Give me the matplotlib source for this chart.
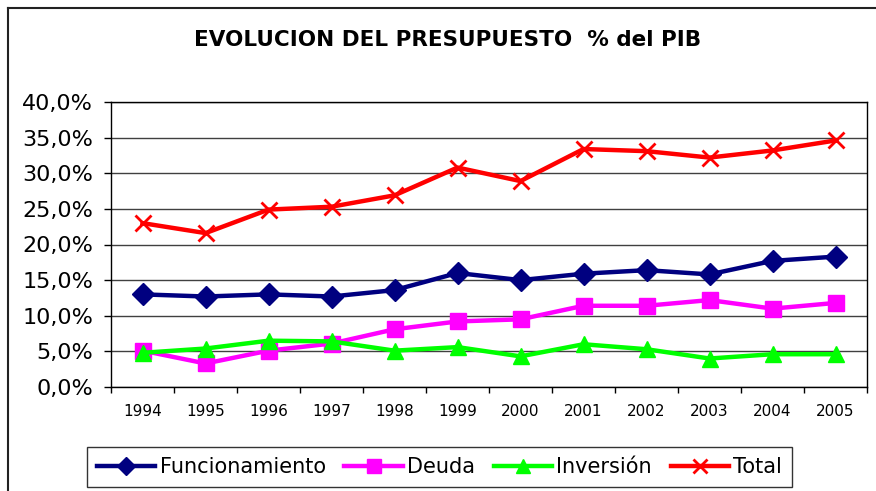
import matplotlib
matplotlib.use("Agg")
import matplotlib.pyplot as plt
from matplotlib.lines import Line2D
from matplotlib.ticker import FixedLocator, FuncFormatter

years = ["1994", "1995", "1996", "1997", "1998", "1999",
         "2000", "2001", "2002", "2003", "2004", "2005"]
funcionamiento = [13.0, 12.7, 13.0, 12.7, 13.6, 16.0, 15.0, 15.9, 16.4, 15.8, 17.7, 18.3]
deuda = [5.1, 3.3, 5.1, 6.1, 8.1, 9.2, 9.5, 11.4, 11.4, 12.2, 11.0, 11.8]
inversion = [4.8, 5.4, 6.5, 6.4, 5.1, 5.6, 4.3, 6.0, 5.3, 4.0, 4.6, 4.6]
total = [23.0, 21.6, 24.9, 25.3, 26.9, 30.8, 28.9, 33.4, 33.1, 32.2, 33.2, 34.6]

W, H = 876, 491
fig = plt.figure(figsize=(W / 100, H / 100), dpi=100)
ax = fig.add_axes([111 / W, 1 - 387 / H, 756 / W, 285 / H])

x = list(range(len(years)))
series = [
    (funcionamiento, "Funcionamiento", "#000080", "D", 11, 1),
    (deuda, "Deuda", "#FF00FF", "s", 12, 1),
    (inversion, "Inversión", "#00FF00", "^", 12, 1),
    (total, "Total", "#FF0000", "x", 12, 2),
]
for vals, lab, c, m, ms, mew in series:
    ax.plot(x, vals, color=c, lw=3.2, marker=m, ms=ms, mew=mew,
            mec=c, mfc=c, label=lab, zorder=3)

ax.set_xlim(-0.5, len(years) - 0.5)
ax.set_ylim(0, 40)
ax.set_yticks(range(0, 41, 5))
ax.yaxis.set_major_formatter(FuncFormatter(lambda v, p: f"{v:.1f}%".replace(".", ",")))
ax.grid(axis="y", color="#404040", lw=1)
ax.set_axisbelow(True)
ax.set_xticks(x)
ax.set_xticklabels(years)
ax.xaxis.set_minor_locator(FixedLocator([i - 0.5 for i in range(len(years) + 1)]))
ax.tick_params(axis="x", which="major", length=0, labelsize=11, pad=12)
ax.tick_params(axis="x", which="minor", length=4, width=1)
ax.tick_params(axis="y", length=5, width=1, labelsize=16, pad=8)
for s in ax.spines.values():
    s.set_color("black")
    s.set_linewidth(1)

fig.text(448 / W, 1 - 40 / H, "EVOLUCION DEL PRESUPUESTO  % del PIB",
         ha="center", va="center", fontsize=15.5, fontweight="bold")

leg = fig.legend(loc="center", bbox_to_anchor=(439.5 / W, 1 - 467 / H), ncol=4,
                 fontsize=15, frameon=True, fancybox=False, edgecolor="black",
                 handlelength=2.8, handletextpad=0.2, columnspacing=0.9,
                 borderpad=0.5, borderaxespad=0, markerscale=0.8)
leg.get_frame().set_linewidth(1)

fig.add_artist(Line2D([8 / W, 8 / W], [0, 1 - 8 / H], transform=fig.transFigure,
                      color="#222222", lw=1.5))
fig.add_artist(Line2D([8 / W, 1], [1 - 8 / H, 1 - 8 / H], transform=fig.transFigure,
                      color="#222222", lw=1.5))

fig.savefig("out.png", dpi=100)
